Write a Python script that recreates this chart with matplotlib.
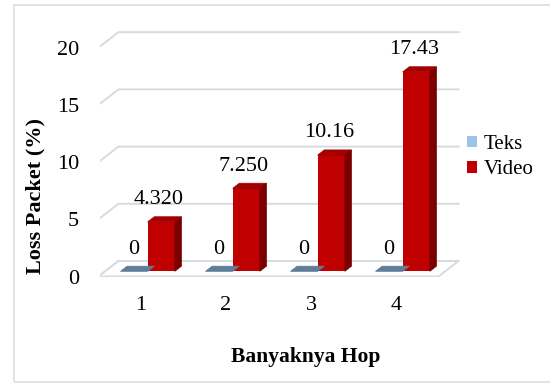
import matplotlib
matplotlib.use('Agg')
import matplotlib.pyplot as plt
from matplotlib.patches import Polygon, Rectangle

hops = ['1', '2', '3', '4']
teks = [0, 0, 0, 0]
video = [4.32, 7.25, 10.16, 17.43]
yticks = [0, 5, 10, 15, 20]

plt.rcParams['font.family'] = ['Liberation Serif', 'DejaVu Serif']

fig = plt.figure(figsize=(5.5, 3.83), dpi=100)
ax = fig.add_axes([100 / 550, 106.5 / 383, 360 / 550, 246 / 383])
ax.set_xlim(-0.482, 3.753)
ax.set_ylim(0, 21.5)

# fake 3d: depth of the floor and where the bars sit inside it
DX, DY = 0.235, 1.355
ox, oy = DX / 3, DY / 3
bx, by = DX / 3, DY / 3
w = 0.32
grid_c = '#d6dbe2'

# back wall gridlines with the left wall diagonal
for v in yticks:
    ax.plot([-0.5, -0.5 + DX, 3.5 + DX], [v, v + DY, v + DY],
            color=grid_c, lw=1.4, zorder=1)
floor = Polygon([(-0.5, 0), (3.5, 0), (3.5 + DX, DY), (-0.5 + DX, DY)],
                closed=True, facecolor='white', edgecolor=grid_c, lw=1.4, zorder=1)
ax.add_patch(floor)


def faces(x, v, top, side):
    x0 = x + ox - w / 2
    x1 = x + ox + w / 2
    ax.add_patch(Polygon([(x0, oy + v), (x1, oy + v), (x1 + bx, oy + v + by),
                          (x0 + bx, oy + v + by)], closed=True,
                         facecolor=top, edgecolor=top, lw=0.5, zorder=3))
    if v > 0:
        ax.add_patch(Polygon([(x1, oy), (x1 + bx, oy + by), (x1 + bx, oy + v + by),
                              (x1, oy + v)], closed=True,
                             facecolor=side, edgecolor=side, lw=0.5, zorder=3))


def label(v):
    return '0' if v == 0 else f'{v:#.4g}'


pos = list(range(len(hops)))
xt = [p - w / 2 for p in pos]
xv = [p + w / 2 for p in pos]

ax.bar([x + ox for x in xt], teks, w, bottom=oy, color='#9dc3e6', label='Teks', zorder=3)
ax.bar([x + ox for x in xv], video, w, bottom=oy, color='#c00000', label='Video', zorder=3)

for x, v in zip(xt, teks):
    faces(x, v, '#5f7d99', '#3f5a73')
    ax.annotate(label(v), (x + ox, oy + v), xytext=(0, 16), textcoords='offset points',
                ha='center', va='center', fontsize=16)
for x, v in zip(xv, video):
    faces(x, v, '#a30000', '#7a0000')
    ax.annotate(label(v), (x + ox - 0.03, oy + v), xytext=(0, 16), textcoords='offset points',
                ha='center', va='center', fontsize=16)

ax.set_yticks(yticks)
ax.set_yticklabels([str(t) for t in yticks], fontsize=16)
ax.set_xticks(pos)
ax.set_xticklabels(hops, fontsize=16)
ax.tick_params(axis='y', length=0, pad=15)
ax.tick_params(axis='x', length=0, pad=14)
for s in ax.spines.values():
    s.set_visible(False)

fig.text(35 / 550, 1 - 196 / 383, 'Loss Packet (%)', rotation=90, ha='center', va='center',
         fontsize=16, fontweight='bold')
fig.text(306 / 550, 1 - 357 / 383, 'Banyaknya Hop', ha='center', va='center',
         fontsize=15.5, fontweight='bold')

fig.legend(loc='center left', bbox_to_anchor=(467 / 550, 1 - 157 / 383), frameon=False,
           fontsize=15, handlelength=0.5, handleheight=0.5, handletextpad=0.3,
           labelspacing=0.3, borderpad=0, borderaxespad=0)

# chart border
fig.patches.append(Rectangle((13.5 / 550, 1.5 / 383), 1, 1 - 6.5 / 383, transform=fig.transFigure,
                             fill=False, edgecolor='#d9dde3', lw=1.2))

fig.savefig('out.png', dpi=100)
